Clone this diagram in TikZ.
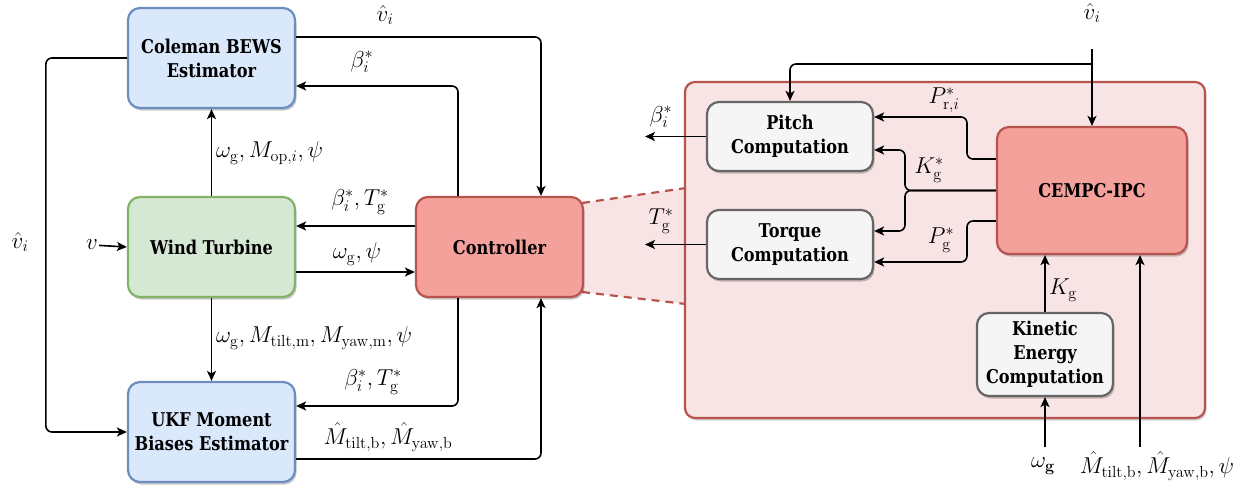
\RequirePackage{fix-cm}
\documentclass[tikz,border=0pt]{standalone}
\usepackage[no-math]{fontspec}
\setmainfont{DejaVu Serif}[FakeStretch=0.85]
\usetikzlibrary{arrows.meta,shadows}
\definecolor{bluefill}{HTML}{DAE8FC}
\definecolor{bluedraw}{HTML}{6C8EBF}
\definecolor{greenfill}{HTML}{D5E8D4}
\definecolor{greendraw}{HTML}{82B366}
\definecolor{redfill}{HTML}{F4A19C}
\definecolor{reddraw}{HTML}{B85450}
\definecolor{panelfill}{HTML}{F8E4E4}
\definecolor{grayfill}{HTML}{F5F5F5}
\definecolor{graydraw}{HTML}{666666}
\begin{document}
\begin{tikzpicture}[x=1pt,y=-1pt,
  boxbase/.style={rounded corners=12pt, line width=2.2pt, align=center, inner sep=0pt,
    font=\bfseries\fontsize{19}{24}\selectfont,
    drop shadow={shadow xshift=1.5pt, shadow yshift=-2.5pt, opacity=0.22, fill=black}},
  bluebox/.style={boxbase, draw=bluedraw, fill=bluefill, minimum width=167pt, minimum height=100pt},
  greenbox/.style={boxbase, draw=greendraw, fill=greenfill, minimum width=167pt, minimum height=100pt},
  redbox/.style={boxbase, draw=reddraw, fill=redfill},
  graybox/.style={boxbase, draw=graydraw, fill=grayfill},
  panelbox/.style={draw=reddraw, fill=panelfill, line width=2.2pt, rounded corners=10pt, minimum width=520pt, minimum height=336pt,
    drop shadow={shadow xshift=1.5pt, shadow yshift=-2.5pt, opacity=0.18, fill=black}},
  arr/.style={draw=black, line width=1.6pt, rounded corners=6pt, -{Stealth[length=10pt,width=9pt,inset=2.5pt]}},
  lbl/.style={inner sep=1pt, font=\fontsize{23}{27}\selectfont},
  zoomline/.style={draw=reddraw, line width=2.2pt, dash pattern=on 8pt off 6pt}
]
\useasboundingbox (0,0) rectangle (1237,487);

% zoom trapezoid
\coordinate (z1) at (582,203);
\coordinate (z2) at (686,188);
\coordinate (z3) at (686,304);
\coordinate (z4) at (582,292);
\fill[panelfill] (z1) -- (z2) -- (z3) -- (z4) -- cycle;
\draw[zoomline] (z1) -- (z2);
\draw[zoomline] (z4) -- (z3);

% left nodes
\node[bluebox] (bews) at (211.5,58) {Coleman BEWS\\Estimator};
\node[greenbox] (wt) at (211.5,247) {Wind Turbine};
\node[bluebox] (ukf) at (211.5,432) {UKF Moment\\Biases Estimator};
\node[redbox, minimum width=167pt, minimum height=100pt] (ctrl) at (499.5,247) {Controller};

% panel
\node[panelbox] (panel) at (945,250) {};
\node[graybox, minimum width=166pt, minimum height=69pt] (pitch) at (790,136.5) {Pitch\\Computation};
\node[graybox, minimum width=166pt, minimum height=69pt] (torque) at (790,244.5) {Torque\\Computation};
\node[redbox, minimum width=190pt, minimum height=127pt] (cempc) at (1092,190.5) {CEMPC-IPC};
\node[graybox, minimum width=136pt, minimum height=83pt] (ke) at (1045,354.5) {Kinetic\\Energy\\Computation};

% left connectors
\draw[arr] (bews.east |- 0,37) -| ([xshift=41.5pt]ctrl.north);
\node[lbl] (l1) at (385,15) {$\hat{v}_i$};
\draw[arr] ([xshift=-41.5pt]ctrl.north) |- (bews.east |- 0,86);
\node[lbl] (l2) at (362,62) {$\beta_i^*$};
\draw[arr] (wt.north) -- (bews.south);
\node[lbl, anchor=west] (l3) at (215,153) {$\omega_\mathrm{g}, M_{\mathrm{op},i}, \psi$};
\draw[arr] (ctrl.west |- 0,226) -- (wt.east |- 0,226);
\node[lbl] (l4) at (360,202) {$\beta_i^*, T_\mathrm{g}^*$};
\draw[arr] (wt.east |- 0,272) -- (ctrl.west |- 0,272);
\node[lbl] (l5) at (357,254) {$\omega_\mathrm{g}, \psi$};
\node[lbl] (vin) at (92,245) {$v$};
\draw[arr] (vin) -- (wt.west);
\draw[arr] (bews.west) -| ([xshift=-81pt]ukf.west) -- (ukf.west);
\node[lbl] (l6) at (20,242) {$\hat{v}_i$};
\draw[arr] (wt.south) -- (ukf.north);
\node[lbl, anchor=west] (l7) at (215,338) {$\omega_\mathrm{g}, M_\mathrm{tilt,m}, M_\mathrm{yaw,m}, \psi$};
\draw[arr] ([xshift=-41.5pt]ctrl.south) |- (ukf.east |- 0,406);
\node[lbl] (l8) at (373,382) {$\beta_i^*, T_\mathrm{g}^*$};
\draw[arr] (ukf.east |- 0,459) -| ([xshift=41.5pt]ctrl.south);
\node[lbl] (l9) at (388,437) {$\hat{M}_\mathrm{tilt,b}, \hat{M}_\mathrm{yaw,b}$};

% right connectors
\node[lbl] (l10) at (1092,13) {$\hat{v}_i$};
\coordinate (vtop) at (1092,49);
\draw[arr] (vtop) -- (cempc.north);
\draw[arr] (vtop |- 0,64) -| (pitch.north);
\coordinate (bout) at (645,136.5);
\draw[arr] (pitch.west) -- (bout);
\node[lbl] (l11) at (661,117) {$\beta_i^*$};
\coordinate (tout) at (645,244.5);
\draw[arr] (torque.west) -- (tout);
\node[lbl] (l12) at (661,221) {$T_\mathrm{g}^*$};
\draw[arr] (cempc.west |- 0,159) -| (967,117) -- (pitch.east |- 0,117);
\node[lbl] (l13) at (944,100) {$P_{\mathrm{r},i}^*$};
\draw[arr] (cempc.west) -| (905,150) -- (pitch.east |- 0,150);
\draw[arr] (cempc.west) -| (905,231) -- (torque.east |- 0,231);
\node[lbl] (l14) at (929,170) {$K_\mathrm{g}^*$};
\draw[arr] (cempc.west |- 0,221) -| (967,262) -- (torque.east |- 0,262);
\node[lbl] (l15) at (941,240) {$P_\mathrm{g}^*$};
\draw[arr] (ke.north) -- (cempc.south -| ke.north);
\node[lbl, anchor=west] (l16) at (1048,290) {$K_\mathrm{g}$};
\coordinate (wbot) at (1045,447);
\draw[arr] (wbot) -- (ke.south);
\node[lbl] (l17) at (1043,466) {$\omega_\mathbf{g}$};
\coordinate (mbot) at (1140,447);
\draw[arr] (mbot) -- (cempc.south -| mbot);
\node[lbl] (l18) at (1157,466) {$\hat{M}_\mathrm{tilt,b}, \hat{M}_\mathrm{yaw,b}, \psi$};
\end{tikzpicture}
\end{document}
